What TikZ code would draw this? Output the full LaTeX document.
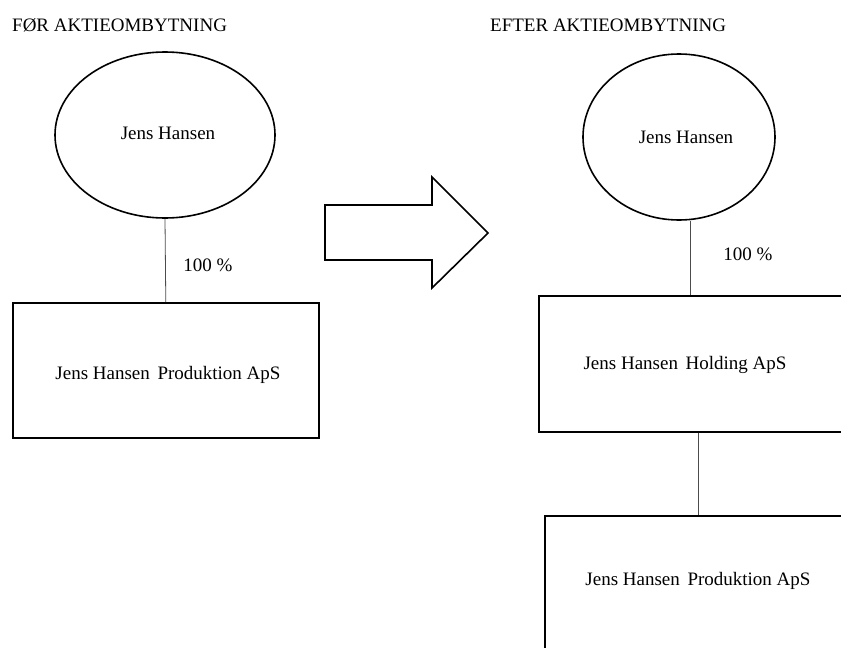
\documentclass[tikz,border=0pt]{standalone}
\usepackage{fontspec}
\setmainfont{Liberation Serif}
\usetikzlibrary{shapes.geometric}
\begin{document}
\begin{tikzpicture}[x=1pt,y=-1pt,
  owner/.style={draw=black,line width=1.6pt,ellipse,inner sep=0pt},
  company/.style={draw=black,line width=1.6pt,rectangle,inner sep=0pt,anchor=north west},
  label/.style={font=\fontsize{19}{21}\selectfont,inner sep=0pt},
  title/.style={font=\fontsize{19}{21}\selectfont,inner sep=0pt,anchor=west},
  link/.style={draw=black!70,line width=0.8pt},
  bigarrow/.style={draw=black,line width=1.6pt,line join=miter}]
\useasboundingbox (0,0) rectangle (841,648);
\clip (0,0) rectangle (841,648);
\fill[white] (0,0) rectangle (841,648);

% headings
\node[title] (before) at (12,25) {FØR AKTIEOMBYTNING};
\node[title] (after) at (490,25) {EFTER AKTIEOMBYTNING};

% before the exchange
\node[owner,minimum width=220pt,minimum height=166pt] (ownA) at (165,135) {};
\node[label] (ownAtxt) at (168,133) {Jens Hansen};
\node[company,minimum width=306pt,minimum height=135pt] (prodA) at (12,302) {};
\node[label] (prodAtxt) at (168,375) {Jens Hansen\hspace{0.4em}Produktion ApS};
\draw[link] (ownA.south) -- (prodA.north);
\node[label] (pctA) at (208,265) {100 \%};

% transition arrow
\coordinate (arrT) at (488,233);
\draw[bigarrow] (325,205) -- (432,205) -- (432,177) -- (arrT) -- (432,288) -- (432,260) -- (325,260) -- cycle;

% after the exchange
\node[owner,minimum width=192pt,minimum height=166pt] (ownB) at (679,137) {};
\node[label] (ownBtxt) at (686,137) {Jens Hansen};
\node[company,minimum width=304pt,minimum height=136pt] (hold) at (538,295) {};
\node[label] (holdtxt) at (685,365) {Jens Hansen\hspace{0.4em}Holding ApS};
\node[company,minimum width=308pt,minimum height=160pt] (prodB) at (544,515) {};
\node[label] (prodBtxt) at (698,581) {Jens Hansen\hspace{0.4em}Produktion ApS};
\draw[link] (ownB.south -| hold.north) -- (hold.north);
\draw[link] (hold.south -| prodB.north) -- (prodB.north);
\node[label] (pctB) at (748,254) {100 \%};
\end{tikzpicture}
\end{document}
